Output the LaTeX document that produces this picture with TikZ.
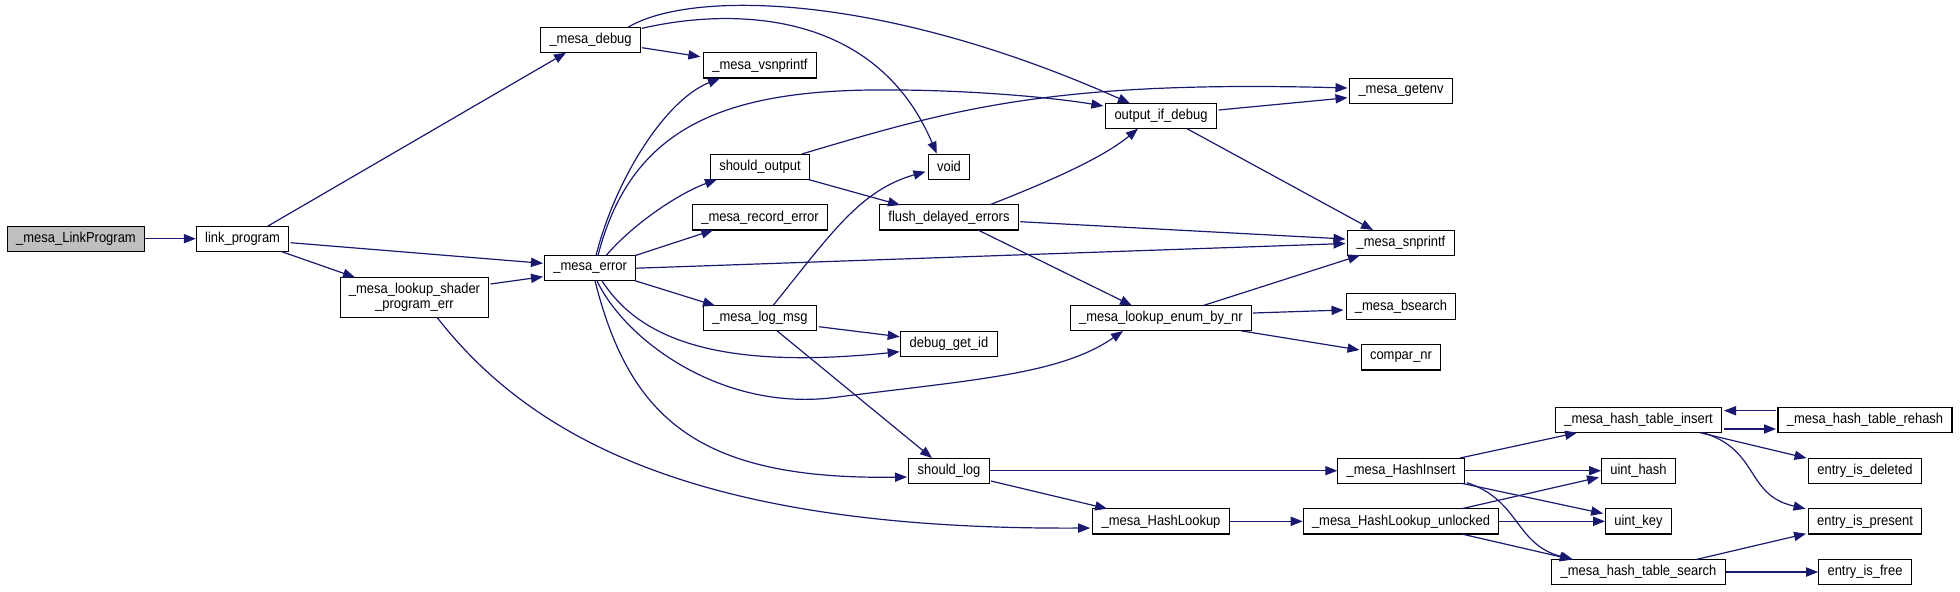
\documentclass[tikz,border=0pt]{standalone}
\usepackage{fontspec}
\setmainfont[FakeStretch=0.9]{Liberation Sans}
\usetikzlibrary{arrows.meta, calc}
\definecolor{edgeblue}{HTML}{191970}

\begin{document}
\begin{tikzpicture}[
    x=0.5pt, y=-0.5pt,      % 1単位 = 1px（y軸は下向き）
    >={Triangle[length=6pt, width=4.6pt]},
    % 関数ボックスのスタイル
    func_box/.style={
        draw=black, line width=0.55pt, fill=white,
        inner xsep=4.4pt, inner ysep=0pt, minimum height=12.65pt,
        font=\fontsize{7.2}{7.6}\selectfont, align=center
    },
    root_box/.style={func_box, fill=black!25},
    call_edge/.style={->, draw=edgeblue, line width=0.6pt}
]
    \useasboundingbox (0,0) rectangle (1960,591);

    % --- 1. 関数ノード ---
    \node[root_box] (link_prog_api) at (76,238.7) {\_mesa\_LinkProgram};
    \node[func_box] (link_program) at (242.6,238.7) {link\_program};
    \node[func_box, minimum height=20pt] (lookup_shader) at (414.5,297.3) {\_mesa\_lookup\_shader\\\_program\_err};

    \node[func_box] (mesa_debug) at (590.6,40) {\_mesa\_debug};
    \node[func_box] (mesa_error) at (590.2,268.2) {\_mesa\_error};

    \node[func_box] (vsnprintf) at (760,65.3) {\_mesa\_vsnprintf};
    \node[func_box] (should_output) at (760,166.7) {should\_output};
    \node[func_box] (record_error) at (760,217.3) {\_mesa\_record\_error};
    \node[func_box] (log_msg) at (760,318.2) {\_mesa\_log\_msg};

    \node[func_box] (void_fn) at (949,166.7) {void};
    \node[func_box] (flush_errors) at (949,217.3) {flush\_delayed\_errors};
    \node[func_box] (debug_id) at (949,344) {debug\_get\_id};
    \node[func_box] (should_log) at (949,470.7) {should\_log};

    \node[func_box] (output_debug) at (1161,116) {output\_if\_debug};
    \node[func_box] (lookup_enum) at (1161,318.2) {\_mesa\_lookup\_enum\_by\_nr};
    \node[func_box] (hash_lookup) at (1161,521.3) {\_mesa\_HashLookup};

    \node[func_box] (getenv) at (1401,90.8) {\_mesa\_getenv};
    \node[func_box] (snprintf) at (1401,242.7) {\_mesa\_snprintf};
    \node[func_box] (bsearch) at (1401,306.5) {\_mesa\_bsearch};
    \node[func_box] (compar_nr) at (1401,357.3) {compar\_nr};
    \node[func_box] (hash_insert) at (1401,470.7) {\_mesa\_HashInsert};
    \node[func_box] (lookup_unlocked) at (1401,521.3) {\_mesa\_HashLookup\_unlocked};

    \node[func_box] (table_insert) at (1638.5,420) {\_mesa\_hash\_table\_insert};
    \node[func_box] (uint_hash) at (1638.5,470.7) {uint\_hash};
    \node[func_box] (uint_key) at (1638.5,521.3) {uint\_key};
    \node[func_box] (table_search) at (1638.5,572) {\_mesa\_hash\_table\_search};

    \node[func_box] (table_rehash) at (1865,420) {\_mesa\_hash\_table\_rehash};
    \node[func_box] (is_deleted) at (1865,470.7) {entry\_is\_deleted};
    \node[func_box] (is_present) at (1865,521.3) {entry\_is\_present};
    \node[func_box] (is_free) at (1865,572) {entry\_is\_free};

    % --- 2. 呼び出し線（左側） ---
    \draw[call_edge] (link_prog_api) -- (link_program);
    \draw[call_edge] ($(link_program)+(25.4,-12.7)$) -- ($(mesa_debug)+(-24.6,12.7)$);
    \draw[call_edge] ($(link_program)+(48,4)$) -- ($(mesa_error)+(-47.2,-4.9)$);
    \draw[call_edge] ($(link_program)+(38.4,12.7)$) -- ($(lookup_shader)+(-59.5,-20)$);
    \draw[call_edge] ($(lookup_shader)+(76,-13.3)$) -- ($(mesa_error)+(-47.2,8.5)$);
    \draw[call_edge] ($(lookup_shader)+(22.5,20)$) .. controls (540,450) and (720,530) .. ($(hash_lookup)+(-70.8,6.7)$);

    % _mesa_debug から
    \draw[call_edge] ($(mesa_debug)+(51.4,7.7)$) -- ($(vsnprintf)+(-59.6,-8.6)$);
    \draw[call_edge] ($(mesa_debug)+(37.4,-12.7)$) .. controls (690,-10) and (880,-8) .. ($(output_debug)+(-31,-12.7)$);
    \draw[call_edge] ($(mesa_debug)+(51.4,-11.7)$) .. controls (730,8) and (875,8) .. ($(void_fn)+(-12.3,-13)$);

    % --- 3. _mesa_error からの扇状の線 ---
    \draw[call_edge] ($(mesa_error)+(5.8,-12.6)$) .. controls (615,180) and (665,100) .. ($(vsnprintf)+(-40,13)$);
    \draw[call_edge] ($(mesa_error)+(7.8,-12.6)$) .. controls (630,130) and (720,92) .. (870,90)
        .. controls (960,89) and (1050,97) .. ($(output_debug)+(-57.6,-10)$);
    \draw[call_edge] ($(mesa_error)+(15.8,-12.6)$) .. controls (635,222) and (680,193) .. ($(should_output)+(-43,12.7)$);
    \draw[call_edge] ($(mesa_error)+(44.8,-12.6)$) -- ($(record_error)+(-46.7,12.7)$);
    \draw[call_edge] (mesa_error.east) -- ($(snprintf)+(-55.5,0.8)$);
    \draw[call_edge] ($(mesa_error)+(44.8,12.5)$) -- ($(log_msg)+(-45,-12.6)$);
    \draw[call_edge] ($(mesa_error)+(11.8,12.6)$) .. controls (640,340) and (720,370) .. ($(debug_id)+(-49.3,7.7)$);
    \draw[call_edge] ($(mesa_error)+(6.8,12.6)$) .. controls (625,340) and (720,410) .. (830,398)
        .. controls (970,380) and (1060,375) .. ($(lookup_enum)+(-38,12.8)$);
    \draw[call_edge] ($(mesa_error)+(4.8,12.6)$) .. controls (630,420) and (700,480) .. ($(should_log)+(-42,6.3)$);

    % --- 4. 中段の呼び出し ---
    \draw[call_edge] ($(should_output)+(41.7,-12.7)$) .. controls (950,110) and (1050,80) .. ($(getenv)+(-53.5,-2.8)$);
    \draw[call_edge] ($(should_output)+(48,12.7)$) -- ($(flush_errors)+(-49,-12.3)$);

    \draw[call_edge] ($(log_msg)+(13,-12.6)$) .. controls (830,235) and (860,190) .. ($(void_fn)+(-23.5,5)$);
    \draw[call_edge] ($(log_msg)+(58.8,8.5)$) -- ($(debug_id)+(-49.3,-7.3)$);
    \draw[call_edge] ($(log_msg)+(17,12.6)$) -- ($(should_log)+(-17,-12.7)$);

    \draw[call_edge] ($(flush_errors)+(41,-12.6)$) .. controls (1040,185) and (1100,160) .. ($(output_debug)+(-23,12.7)$);
    \draw[call_edge] ($(flush_errors)+(71.4,4.4)$) -- ($(snprintf)+(-55.5,-3.7)$);
    \draw[call_edge] ($(flush_errors)+(29,12.7)$) -- ($(lookup_enum)+(-29,-12.6)$);

    \draw[call_edge] ($(output_debug)+(57.6,-6)$) -- ($(getenv)+(-53.5,6.9)$);
    \draw[call_edge] ($(output_debug)+(26,12.7)$) -- ($(snprintf)+(-28,-12.7)$);

    \draw[call_edge] ($(lookup_enum)+(42,-12.6)$) -- ($(snprintf)+(-41,12.6)$);
    \draw[call_edge] ($(lookup_enum)+(92,-5.2)$) -- ($(bsearch)+(-57.5,3.5)$);
    \draw[call_edge] ($(lookup_enum)+(80,12.6)$) -- ($(compar_nr)+(-41.5,-7.3)$);

    % --- 5. ハッシュテーブル周り ---
    \draw[call_edge] (should_log) -- (hash_insert);
    \draw[call_edge] ($(should_log)+(42,10.3)$) -- ($(hash_lookup)+(-53.8,-12.6)$);
    \draw[call_edge] (hash_lookup) -- (lookup_unlocked);

    \draw[call_edge] ($(hash_insert)+(59,-12.7)$) -- ($(table_insert)+(-61.5,12.7)$);
    \draw[call_edge] (hash_insert) -- (uint_hash);
    \draw[call_edge] ($(hash_insert)+(60.7,12.6)$) -- ($(uint_key)+(-35.4,-7.8)$);
    \draw[call_edge] ($(hash_insert)+(66,12)$) .. controls (1520,500) and (1515,545) .. ($(table_search)+(-65.5,-12.6)$);

    \draw[call_edge] ($(lookup_unlocked)+(60.7,-12.6)$) -- ($(uint_hash)+(-39.5,6.6)$);
    \draw[call_edge] (lookup_unlocked) -- (uint_key);
    \draw[call_edge] ($(lookup_unlocked)+(60.7,12.7)$) -- ($(table_search)+(-66.8,-12.6)$);

    \draw[call_edge] ($(table_rehash)+(-89,-9.3)$) -- ($(table_insert)+(85.5,-9.3)$);
    \draw[call_edge] ($(table_insert)+(85.5,9)$) -- ($(table_rehash)+(-89,9)$);
    \draw[call_edge] ($(table_insert)+(61.5,12.7)$) -- ($(is_deleted)+(-58.5,-12.6)$);
    \draw[call_edge] ($(table_insert)+(64.5,12.7)$) .. controls (1760,450) and (1745,495) .. ($(is_present)+(-59.5,-12.6)$);
    \draw[call_edge] ($(table_search)+(58,-12.6)$) -- ($(is_present)+(-59,12.4)$);
    \draw[call_edge] (table_search) -- (is_free);

\end{tikzpicture}
\end{document}
